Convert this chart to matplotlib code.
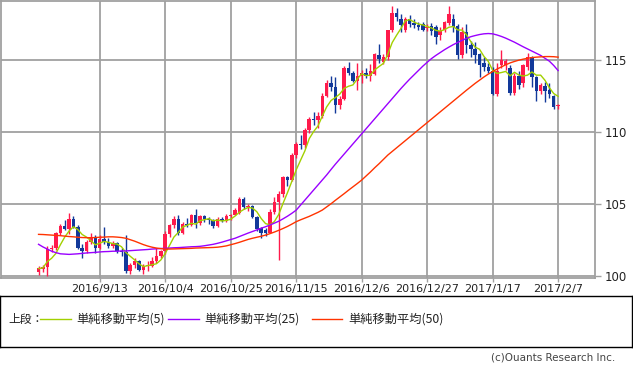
import matplotlib
matplotlib.use("Agg")
import matplotlib.pyplot as plt
import numpy as np
import pandas as pd

# DATA (USD/JPY daily)
dates = pd.bdate_range("2016-08-24", "2017-02-07")

opens = [100.25, 100.45, 100.58, 101.85, 101.92, 102.95, 103.45, 103.25, 103.95, 103.40,
         101.95, 101.75, 102.35, 102.70, 101.95, 102.55, 102.35, 102.05, 102.25, 101.75,
         101.65, 100.35, 100.75, 101.00, 100.40, 100.65, 100.70, 101.05, 101.35, 101.70,
         102.90, 103.50, 103.95, 102.95, 103.60, 103.50, 104.20, 103.65, 104.15, 103.95,
         103.85, 103.45, 103.95, 103.80, 104.15, 104.25, 104.35, 105.30, 104.75, 104.85,
         104.05, 103.30, 103.20, 103.00, 104.45, 105.15, 105.70, 106.85, 106.65, 108.35,
         109.15, 109.05, 110.15, 110.90, 110.80, 111.10, 112.50, 113.35, 113.08, 111.85,
         112.30, 114.45, 114.10, 113.55, 113.90, 114.10, 113.85, 114.00, 115.30, 114.85,
         115.20, 117.05, 118.25, 117.85, 117.10, 117.80, 117.55, 117.40, 117.45, 117.20,
         117.35, 117.25, 116.75, 117.05, 117.55, 117.85, 117.35, 115.35, 116.95, 116.05,
         115.75, 115.40, 114.80, 114.50, 114.25, 112.65, 114.60, 114.60, 114.40, 112.70,
         113.85, 113.35, 114.50, 115.20, 113.80, 112.80, 113.20, 112.90, 112.45, 111.80]
highs = [100.65, 100.75, 102.05, 102.10, 103.05, 103.60, 103.90, 104.35, 104.15, 103.55,
         102.20, 102.45, 102.95, 102.85, 102.80, 103.40, 102.60, 102.40, 102.35, 101.95,
         102.80, 100.90, 101.20, 101.10, 100.80, 101.00, 101.30, 101.90, 101.80, 103.10,
         103.60, 104.15, 104.20, 103.70, 104.00, 104.30, 104.60, 104.20, 104.25, 104.10,
         103.95, 104.05, 104.10, 104.30, 104.30, 104.70, 105.50, 105.50, 105.00, 104.90,
         104.15, 103.40, 103.30, 104.60, 105.45, 105.90, 106.95, 106.95, 108.50, 109.30,
         109.80, 110.25, 111.00, 111.40, 111.35, 112.70, 113.60, 113.90, 113.80, 112.50,
         114.55, 114.85, 114.20, 114.80, 114.30, 114.40, 114.70, 115.50, 116.10, 115.40,
         117.10, 118.70, 118.60, 118.20, 117.95, 118.10, 117.80, 117.65, 117.60, 117.50,
         117.55, 117.40, 117.30, 117.70, 118.70, 118.20, 117.50, 117.30, 117.50, 116.30,
         116.20, 115.45, 115.20, 114.75, 114.50, 114.80, 115.65, 115.05, 114.60, 114.05,
         114.20, 114.70, 115.45, 115.25, 113.90, 113.40, 113.45, 113.40, 112.55, 111.95]
lows = [100.05, 100.25, 100.00, 101.65, 101.80, 102.85, 103.15, 102.90, 103.30, 101.85,
        101.20, 101.60, 102.20, 101.55, 101.85, 102.20, 101.90, 101.90, 101.60, 101.40,
        100.20, 100.10, 100.55, 100.30, 100.10, 100.30, 100.60, 100.90, 101.20, 101.50,
        102.70, 103.30, 102.85, 102.90, 103.40, 103.45, 103.30, 103.55, 103.70, 103.60,
        103.30, 103.35, 103.70, 103.75, 103.90, 104.20, 104.30, 104.60, 104.50, 104.00,
        103.10, 102.60, 102.75, 102.95, 104.30, 101.10, 105.50, 106.20, 106.55, 108.20,
        108.80, 108.85, 109.90, 110.50, 110.25, 110.95, 112.40, 112.85, 111.30, 111.60,
        112.20, 113.95, 113.45, 112.90, 113.40, 113.70, 113.55, 113.95, 114.80, 114.70,
        115.00, 116.90, 117.70, 116.95, 116.90, 117.30, 117.20, 117.10, 117.00, 117.00,
        116.70, 116.10, 116.40, 116.90, 117.40, 116.95, 115.05, 115.10, 115.50, 115.20,
        114.75, 113.80, 114.20, 114.05, 112.55, 112.50, 114.40, 114.30, 112.55, 112.55,
        113.00, 113.10, 114.30, 113.10, 112.10, 112.60, 112.05, 112.35, 111.60, 111.55]
closes = [100.50, 100.58, 101.85, 101.92, 102.95, 103.45, 103.25, 103.95, 103.40, 101.95,
          101.75, 102.35, 102.70, 101.95, 102.55, 102.35, 102.05, 102.25, 101.75, 101.65,
          100.35, 100.75, 101.00, 100.40, 100.65, 100.70, 101.05, 101.35, 101.70, 102.90,
          103.50, 103.95, 102.95, 103.60, 103.50, 104.20, 103.65, 104.15, 103.95, 103.85,
          103.45, 103.95, 103.80, 104.15, 104.25, 104.55, 105.30, 104.75, 104.85, 104.05,
          103.25, 102.95, 102.98, 104.45, 105.15, 105.70, 106.85, 106.65, 108.35, 109.15,
          109.05, 110.15, 110.90, 110.80, 111.10, 112.50, 113.35, 113.10, 111.85, 112.30,
          114.45, 114.10, 113.55, 113.90, 114.10, 113.85, 114.25, 115.40, 115.05, 115.20,
          117.05, 118.25, 117.95, 117.40, 117.85, 117.50, 117.40, 117.25, 117.10, 117.30,
          117.00, 116.55, 117.00, 117.60, 118.15, 117.25, 115.35, 116.95, 116.00, 115.75,
          115.30, 114.65, 114.50, 114.25, 112.65, 114.20, 114.95, 114.90, 112.70, 113.90,
          113.25, 114.60, 115.20, 113.80, 112.80, 113.25, 112.80, 112.65, 111.75, 111.85]

# moving averages as drawn (25 and 50 need history before the window)
ma25 = [102.18, 102.00, 101.85, 101.70, 101.60, 101.52, 101.50, 101.48, 101.50, 101.52,
        101.55, 101.58, 101.60, 101.62, 101.65, 101.67, 101.68, 101.70, 101.70, 101.72,
        101.72, 101.74, 101.76, 101.78, 101.80, 101.82, 101.85, 101.87, 101.89, 101.90,
        101.92, 101.94, 101.95, 101.97, 101.99, 102.01, 102.02, 102.04, 102.08, 102.13,
        102.18, 102.25, 102.33, 102.42, 102.51, 102.60, 102.72, 102.84, 102.96, 103.07,
        103.18, 103.30, 103.40, 103.52, 103.65, 103.78, 103.95, 104.13, 104.33, 104.55,
        104.90, 105.25, 105.60, 105.95, 106.30, 106.65, 107.00, 107.38, 107.75, 108.10,
        108.45, 108.80, 109.15, 109.50, 109.85, 110.20, 110.55, 110.90, 111.25, 111.60,
        111.95, 112.30, 112.65, 113.00, 113.33, 113.65, 113.95, 114.25, 114.55, 114.82,
        115.08, 115.30, 115.50, 115.70, 115.88, 116.05, 116.20, 116.35, 116.48, 116.60,
        116.68, 116.75, 116.80, 116.82, 116.80, 116.72, 116.62, 116.50, 116.36, 116.22,
        116.06, 115.90, 115.75, 115.60, 115.45, 115.30, 115.10, 114.90, 114.60, 114.25]
ma50 = [102.87, 102.86, 102.84, 102.82, 102.80, 102.78, 102.75, 102.72, 102.70, 102.67,
        102.65, 102.64, 102.64, 102.65, 102.67, 102.68, 102.70, 102.70, 102.68, 102.65,
        102.60, 102.50, 102.40, 102.28, 102.16, 102.06, 101.98, 101.92, 101.88, 101.85,
        101.85, 101.86, 101.87, 101.88, 101.89, 101.90, 101.92, 101.93, 101.94, 101.95,
        101.96, 101.98, 102.02, 102.07, 102.15, 102.23, 102.32, 102.42, 102.52, 102.60,
        102.67, 102.74, 102.82, 102.92, 103.03, 103.15, 103.28, 103.42, 103.58, 103.75,
        103.88, 104.00, 104.12, 104.26, 104.40, 104.56, 104.78, 105.00, 105.24, 105.47,
        105.70, 105.94, 106.17, 106.40, 106.64, 106.92, 107.20, 107.50, 107.78, 108.08,
        108.38, 108.63, 108.88, 109.13, 109.38, 109.63, 109.88, 110.13, 110.38, 110.63,
        110.88, 111.13, 111.38, 111.63, 111.88, 112.13, 112.38, 112.63, 112.88, 113.12,
        113.36, 113.58, 113.80, 114.00, 114.18, 114.35, 114.50, 114.65, 114.78, 114.88,
        114.97, 115.04, 115.10, 115.15, 115.18, 115.20, 115.22, 115.22, 115.21, 115.18]

tick_labels = ["2016/9/13", "2016/10/4", "2016/10/25", "2016/11/15",
               "2016/12/6", "2016/12/27", "2017/1/17", "2017/2/7"]
ma_labels = ["単純移動平均(5)", "単純移動平均(25)", "単純移動平均(50)"]

# COLOURS
UP = "#ff1a4b"
DOWN = "#12399a"
MA_COLORS = ["#a2d000", "#9a00ff", "#ff3300"]
GRID = "#a0a0a0"

df = pd.DataFrame({"open": opens, "high": highs, "low": lows, "close": closes}, index=dates)
df["ma5"] = df["close"].rolling(5, min_periods=1).mean()
df["ma25"] = ma25
df["ma50"] = ma50
x = np.arange(len(df))

W, H = 633, 370
fig = plt.figure(figsize=(W / 100, H / 100), dpi=100)
ax = fig.add_axes([1 / W, (H - 278) / H, 594 / W, 277 / H])

# candles
up = df["close"] >= df["open"]
colors = np.where(up, UP, DOWN)
body_lo = np.minimum(df["open"], df["close"])
body_h = np.maximum((df["close"] - df["open"]).abs(), 0.06)
ax.vlines(x, df["low"], df["high"], colors=colors, lw=1.0, zorder=3)
ax.bar(x, body_h, bottom=body_lo, width=0.8, color=colors, linewidth=0, zorder=4)

# moving averages
for col, c in zip(["ma5", "ma25", "ma50"], MA_COLORS):
    ax.plot(x, df[col], color=c, lw=1.0, zorder=5)

# axes
ax.set_xlim(-8.6, 127.45)
ax.set_ylim(99.84, 119.08)
tick_pos = [df.index.get_loc(pd.Timestamp(t.replace("/", "-"))) for t in tick_labels]
ax.set_xticks(tick_pos)
ax.set_xticklabels(tick_labels)
ax.set_yticks([100, 105, 110, 115])
ax.yaxis.tick_right()
ax.grid(True, color=GRID, lw=1.3, zorder=0)
ax.set_axisbelow(True)
for s in ax.spines.values():
    s.set_color(GRID)
    s.set_linewidth(1.3)
ax.tick_params(axis="y", length=4, width=1, color=GRID, pad=3, labelsize=8.5, labelcolor="#222222")
ax.tick_params(axis="x", length=3, width=1, color=GRID, pad=1, labelsize=8, labelcolor="#222222")

# legend box
lg = fig.add_axes([0 / W, (H - 347) / H, 632 / W, 51 / H])
lg.set_xlim(0, 632)
lg.set_ylim(51, 0)
lg.set_xticks([])
lg.set_yticks([])
for s in lg.spines.values():
    s.set_color("black")
    s.set_linewidth(1.0)
cjk = ["Noto Sans CJK JP", "DejaVu Sans"]
lg.text(8, 23, "上段：", family=cjk, fontsize=8.5, va="center", ha="left", color="#222222")
for (x0, x1, tx), lab, c in zip([(40, 71, 76), (168, 199, 204), (312, 342, 348)], ma_labels, MA_COLORS):
    lg.plot([x0, x1], [23, 23], color=c, lw=1.0)
    lg.text(tx, 23, lab, family=cjk, fontsize=8.8, va="center", ha="left", color="#222222")

fig.text(615 / W, 1 - 357 / H, "(c)Ouants Research Inc.", fontsize=7.5, ha="right",
         va="center", color="#444444")

fig.savefig("out.png", dpi=100)
